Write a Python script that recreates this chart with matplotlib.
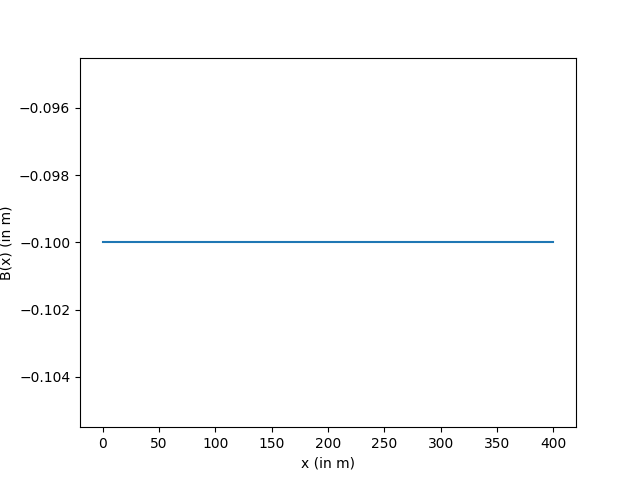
import matplotlib
matplotlib.use("Agg")
import matplotlib.pyplot as plt

x_values = [0, 100, 200, 300, 400]
b_values = [-0.1, -0.1, -0.1, -0.1, -0.1]

fig, ax = plt.subplots(figsize=(6.4, 4.8), dpi=100)
ax.plot(x_values, b_values)
ax.set_xlabel("x (in m)")
ax.set_ylabel("B(x) (in m)")
fig.savefig("out.png")
